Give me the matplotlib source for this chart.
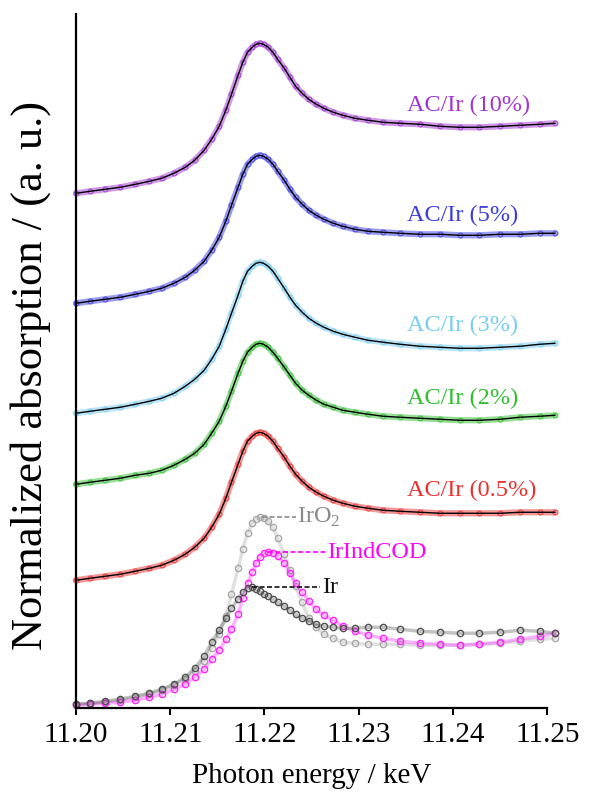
import numpy as np
import matplotlib.pyplot as plt

plt.rcParams['font.family'] = ['Liberation Serif', 'DejaVu Serif']
plt.rcParams['mathtext.fontset'] = 'custom'
plt.rcParams['mathtext.rm'] = 'Liberation Serif'

# photon energy (keV), shared by all spectra
energy = [11.2000, 11.2015, 11.2031, 11.2047, 11.2063, 11.2078, 11.2091, 11.2104,
          11.2116, 11.2126, 11.2136, 11.2144, 11.2152, 11.2159, 11.2165, 11.2172,
          11.2177, 11.2182, 11.2187, 11.2191, 11.2195, 11.2199, 11.2204, 11.2209,
          11.2214, 11.2221, 11.2227, 11.2233, 11.2240, 11.2247, 11.2255, 11.2263,
          11.2273, 11.2283, 11.2296, 11.2310, 11.2326, 11.2344, 11.2365, 11.2386,
          11.2407, 11.2428, 11.2450, 11.2471, 11.2492, 11.2508]

# normalized absorption, already stacked with vertical offsets
ac_10 = [5.15, 5.17, 5.19, 5.21, 5.24, 5.27, 5.30, 5.35, 5.41, 5.48, 5.58, 5.69,
         5.82, 5.98, 6.14, 6.33, 6.46, 6.56, 6.61, 6.64, 6.65, 6.64, 6.61, 6.56,
         6.49, 6.40, 6.31, 6.22, 6.15, 6.09, 6.04, 6.00, 5.96, 5.93, 5.90, 5.88,
         5.86, 5.85, 5.84, 5.82, 5.81, 5.81, 5.82, 5.83, 5.84, 5.85]
ac_5 = [4.05, 4.07, 4.09, 4.11, 4.14, 4.17, 4.20, 4.25, 4.31, 4.38, 4.47, 4.58,
        4.71, 4.87, 5.03, 5.21, 5.34, 5.44, 5.49, 5.52, 5.53, 5.52, 5.49, 5.44,
        5.37, 5.28, 5.19, 5.11, 5.04, 4.98, 4.93, 4.89, 4.85, 4.82, 4.79, 4.77,
        4.76, 4.75, 4.74, 4.74, 4.73, 4.73, 4.74, 4.74, 4.75, 4.75]
ac_3 = [2.95, 2.97, 2.99, 3.01, 3.04, 3.07, 3.10, 3.15, 3.22, 3.29, 3.38, 3.49,
        3.62, 3.79, 3.95, 4.13, 4.27, 4.37, 4.42, 4.45, 4.46, 4.45, 4.42, 4.37,
        4.30, 4.20, 4.11, 4.03, 3.96, 3.90, 3.85, 3.81, 3.77, 3.74, 3.71, 3.68,
        3.66, 3.64, 3.62, 3.61, 3.60, 3.60, 3.61, 3.62, 3.64, 3.65]
ac_2 = [2.24, 2.26, 2.28, 2.30, 2.33, 2.35, 2.38, 2.43, 2.49, 2.55, 2.64, 2.75,
        2.87, 3.02, 3.17, 3.35, 3.47, 3.56, 3.61, 3.64, 3.65, 3.64, 3.61, 3.56,
        3.50, 3.41, 3.33, 3.25, 3.18, 3.13, 3.08, 3.04, 3.01, 2.98, 2.96, 2.94,
        2.92, 2.91, 2.90, 2.89, 2.88, 2.88, 2.89, 2.91, 2.92, 2.93]
ac_05 = [1.28, 1.30, 1.32, 1.34, 1.37, 1.40, 1.43, 1.48, 1.54, 1.61, 1.70, 1.81,
         1.94, 2.10, 2.26, 2.44, 2.57, 2.67, 2.72, 2.75, 2.76, 2.75, 2.72, 2.67,
         2.60, 2.51, 2.42, 2.34, 2.27, 2.21, 2.16, 2.12, 2.08, 2.05, 2.02, 2.00,
         1.98, 1.97, 1.96, 1.95, 1.95, 1.95, 1.95, 1.96, 1.96, 1.96]
iro2 = [0.04, 0.05, 0.06, 0.08, 0.11, 0.14, 0.18, 0.23, 0.29, 0.37, 0.47, 0.60,
        0.74, 0.92, 1.14, 1.40, 1.59, 1.75, 1.85, 1.89, 1.91, 1.90, 1.87, 1.81,
        1.70, 1.54, 1.38, 1.22, 1.06, 0.90, 0.81, 0.74, 0.70, 0.66, 0.65, 0.64,
        0.64, 0.64, 0.63, 0.63, 0.63, 0.64, 0.65, 0.67, 0.69, 0.70]
irind = [0.03, 0.04, 0.05, 0.06, 0.08, 0.11, 0.14, 0.19, 0.24, 0.31, 0.39, 0.49,
         0.58, 0.69, 0.79, 0.94, 1.10, 1.25, 1.36, 1.45, 1.51, 1.55, 1.56, 1.55,
         1.52, 1.45, 1.35, 1.25, 1.16, 1.07, 0.99, 0.93, 0.88, 0.82, 0.77, 0.73,
         0.70, 0.67, 0.65, 0.64, 0.63, 0.64, 0.66, 0.69, 0.72, 0.75]
ir = [0.04, 0.05, 0.07, 0.09, 0.12, 0.15, 0.19, 0.24, 0.31, 0.40, 0.52, 0.66,
      0.78, 0.90, 1.00, 1.09, 1.16, 1.20, 1.21, 1.19, 1.17, 1.14, 1.12, 1.09,
      1.06, 1.02, 0.98, 0.94, 0.90, 0.87, 0.84, 0.82, 0.81, 0.80, 0.80, 0.81,
      0.81, 0.79, 0.77, 0.76, 0.75, 0.75, 0.76, 0.78, 0.77, 0.75]

samples = [ac_10, ac_5, ac_3, ac_2, ac_05]
sample_names = ['AC/Ir (10%)', 'AC/Ir (5%)', 'AC/Ir (3%)', 'AC/Ir (2%)', 'AC/Ir (0.5%)']
sample_colors = ['#a035d0', '#3c3ce0', '#78cdf0', '#2fbf2f', '#ec3030']
label_y = [6.03, 4.93, 3.83, 3.10, 2.18]

refs = [iro2, irind, ir]
ref_names = ['IrO$_2$', 'IrIndCOD', 'Ir']
ref_colors = ['#a8a8a8', '#ff22ff', '#505050']
ref_text_colors = ['#8a8a8a', '#ff00ff', '#111111']
ref_peak = [11.2197, 11.2204, 11.2187]
ref_label_x = [11.2235, 11.2267, 11.2261]

fig = plt.figure(figsize=(5.93, 7.94), dpi=100)
ax = fig.add_axes([0.128, 0.108, 0.795, 0.874])

for y, name, c, ly in zip(samples, sample_names, sample_colors, label_y):
    ax.plot(energy, y, color=c, lw=4.5, alpha=0.5, solid_capstyle='round', clip_on=False)
    ax.plot(energy, y, 'o', color=c, mfc='none', ms=3.5, mew=0.8, alpha=0.8, clip_on=False)
    ax.plot(energy, y, color='black', lw=1.0, clip_on=False)
    ax.text(11.2351, ly, name, color=c, fontsize=17.5, va='center', ha='left')

for y, name, c, tc, px, lx in zip(refs, ref_names, ref_colors, ref_text_colors,
                                  ref_peak, ref_label_x):
    ax.plot(energy, y, color=c, lw=2.5, alpha=0.35, clip_on=False)
    ax.plot(energy, y, 'o', color=c, mfc='none', ms=4.5, mew=1.0, clip_on=False)
    ypk = max(y)
    ax.plot([px, lx - 0.0002], [ypk, ypk], color=tc, lw=1.2, ls='--', dashes=(3, 1.5))
    ax.text(lx, ypk, name, color=tc, fontsize=17.5, va='center', ha='left')

ax.set_xlim(11.20, 11.25)
ax.set_ylim(0, 6.94)
ax.set_xticks([11.20, 11.21, 11.22, 11.23, 11.24, 11.25])
ax.set_xticklabels(['11.20', '11.21', '11.22', '11.23', '11.24', '11.25'])
ax.set_yticks([])
ax.spines['top'].set_visible(False)
ax.spines['right'].set_visible(False)
ax.spines['left'].set_linewidth(1.6)
ax.spines['bottom'].set_linewidth(1.6)
ax.tick_params(axis='x', direction='out', length=5, width=1.5, labelsize=21, pad=5)
ax.set_xlabel('Photon energy / keV', fontsize=21, labelpad=11)
fig.text(0.052, 0.527, 'Normalized absorption / (a. u.)', rotation=90,
         fontsize=32, ha='center', va='center')

fig.savefig('out.png', dpi=100)
